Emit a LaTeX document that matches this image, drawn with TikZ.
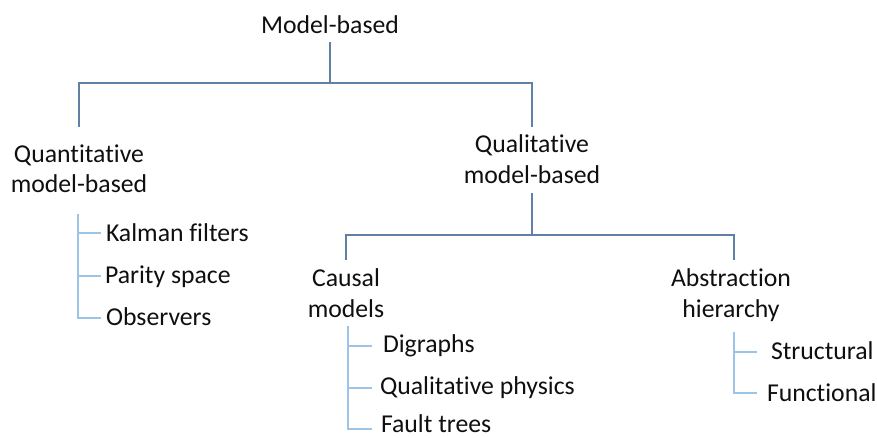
\documentclass[tikz,border=0pt]{standalone}
\usepackage{fontspec}
\setmainfont{Carlito}[RawFeature={-liga;-clig;-calt;-dlig}]
\definecolor{mainline}{RGB}{96,128,165}
\definecolor{subline}{RGB}{157,195,230}
\definecolor{txt}{RGB}{15,15,15}
\begin{document}
\begin{tikzpicture}[x=0.75pt,y=-0.75pt,
  lbl/.style={inner sep=0pt,outer sep=0pt,anchor=base,text=txt,font=\fontsize{19.3}{23}\selectfont},
  item/.style={lbl,anchor=base west},
  mainc/.style={draw=mainline,line width=1.3pt},
  subc/.style={draw=subline,line width=1.3pt}]
\useasboundingbox (0,0) rectangle (877,437);
% texts
\node[lbl] (root) at (330,33) {Model-based};
\node[lbl] (qn1) at (79,162) {Quantitative};
\node[lbl] (qn2) at (79,192) {model-based};
\node[lbl] (ql1) at (532,152) {Qualitative};
\node[lbl] (ql2) at (532,183) {model-based};
\node[lbl] (cm1) at (346,286) {Causal};
\node[lbl] (cm2) at (346,317) {models};
\node[lbl] (ah1) at (731,286) {Abstraction};
\node[lbl] (ah2) at (731,317) {hierarchy};
\node[item] (kal) at (106,241) {Kalman filters};
\node[item] (par) at (105,283) {Parity space};
\node[item] (obs) at (106,325) {Observers};
\node[item] (dig) at (383,352) {Digraphs};
\node[item] (qph) at (380,394) {Qualitative physics};
\node[item] (flt) at (381,432) {Fault trees};
\node[item] (str) at (771,359) {Structural};
\node[item] (fun) at (767,401) {Functional};
% connector coordinates
\coordinate (rootS) at (330,42);
\coordinate (rootJ) at (330,83);
\coordinate (busL) at (79,83);
\coordinate (busR) at (532,83);
\coordinate (qnN) at (79,127);
\coordinate (qlN) at (532,127);
\coordinate (qlS) at (532,193);
\coordinate (qlJ) at (532,235);
\coordinate (bus2L) at (346,235);
\coordinate (bus2R) at (734,235);
\coordinate (cmN) at (346,260);
\coordinate (ahN) at (734,260);
% main connectors
\draw[mainc] (rootS) -- (rootJ);
\draw[mainc] (qnN) -- (busL) -- (busR) -- (qlN);
\draw[mainc] (qlS) -- (qlJ);
\draw[mainc] (cmN) -- (bus2L) -- (bus2R) -- (ahN);
% quantitative list
\coordinate (qnT) at (78,214);
\draw[subc] (qnT) -- (78,318) -- (101,318);
\draw[subc] (78,233) -- (101,233);
\draw[subc] (78,276) -- (101,276);
% causal list
\coordinate (cmT) at (348,326);
\draw[subc] (cmT) -- (348,429) -- (372,429);
\draw[subc] (348,346) -- (372,346);
\draw[subc] (348,388) -- (372,388);
% abstraction list
\coordinate (ahT) at (734,332);
\draw[subc] (ahT) -- (734,393) -- (757,393);
\draw[subc] (734,352) -- (757,352);
\end{tikzpicture}
\end{document}
